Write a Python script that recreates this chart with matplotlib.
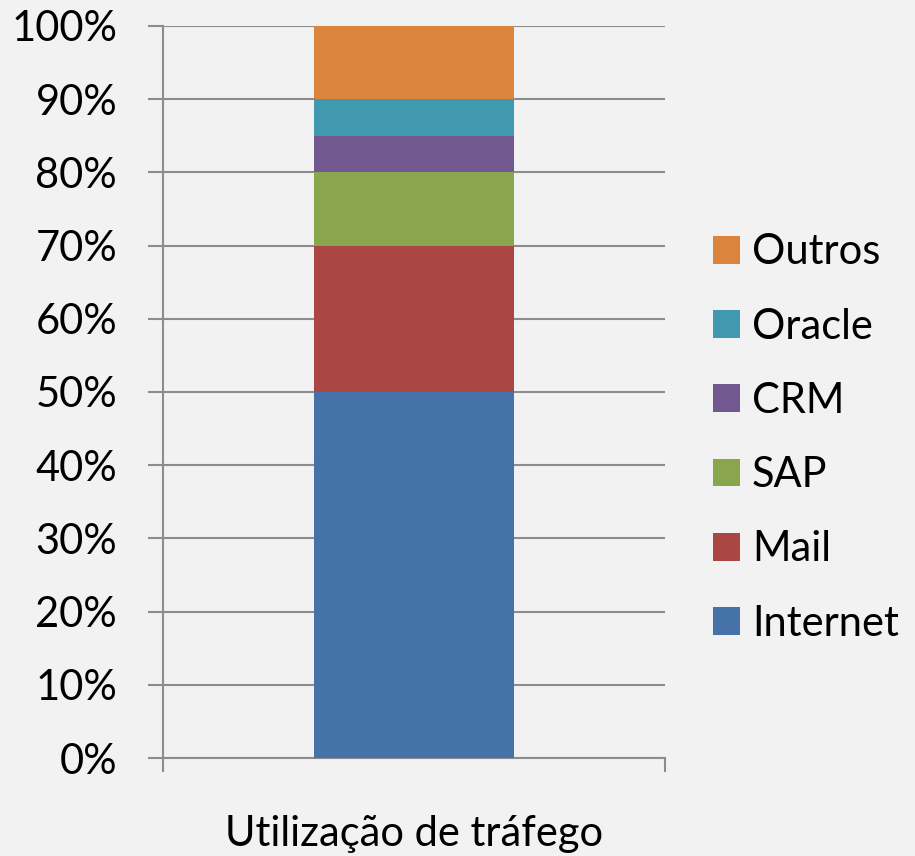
import matplotlib.pyplot as plt
from matplotlib.patches import Patch
from matplotlib.ticker import PercentFormatter

# dados
categoria = ['Utilização de tráfego']
series = ['Internet', 'Mail', 'SAP', 'CRM', 'Oracle', 'Outros']
valores = [50, 20, 10, 5, 5, 10]
cores = ['#4573A7', '#AA4744', '#89A64E', '#71598F', '#4199B0', '#DB843D']

plt.rcParams['font.family'] = ['Lato', 'DejaVu Sans']
fs = 30
grid_cor = '#8C8C8C'

fig = plt.figure(figsize=(9.15, 8.56), dpi=100, facecolor='#F2F2F2')
ax = fig.add_axes([163 / 915, 1 - 758 / 856, (665 - 163) / 915, (758 - 26) / 856])
ax.set_facecolor('#F2F2F2')

base = 0
for nome, v, c in zip(series, valores, cores):
    ax.bar(0, v, width=0.4, bottom=base, color=c, label=nome, zorder=3)
    base += v

ax.set_xlim(-0.5, 0.5)
ax.set_ylim(0, 100)
ax.set_yticks(range(0, 101, 10))
ax.yaxis.set_major_formatter(PercentFormatter(decimals=0))
ax.set_xticks([-0.5, 0.5])
ax.set_xticklabels(['', ''])
ax.grid(axis='y', color=grid_cor, linewidth=1.5, zorder=0)
ax.tick_params(axis='y', length=11, width=1.5, color=grid_cor, labelsize=fs, pad=22)
ax.tick_params(axis='x', length=10, width=1.5, color=grid_cor)
for s in ['top', 'right']:
    ax.spines[s].set_visible(False)
for s in ['left', 'bottom']:
    ax.spines[s].set_color(grid_cor)
    ax.spines[s].set_linewidth(1.5)

ax.text(0, -88 / 732, categoria[0], transform=ax.get_xaxis_transform(),
        ha='center', va='baseline', fontsize=fs)

handles = [Patch(facecolor=c, label=n) for n, c in zip(series, cores)][::-1]
fig.legend(handles=handles, loc='center left', bbox_to_anchor=(713 / 915, 1 - 438 / 856),
           frameon=False, fontsize=fs, handlelength=0.65, handleheight=0.65,
           handletextpad=0.28, labelspacing=0.87, borderpad=0, borderaxespad=0)

fig.savefig('out.png', dpi=100, facecolor=fig.get_facecolor())
